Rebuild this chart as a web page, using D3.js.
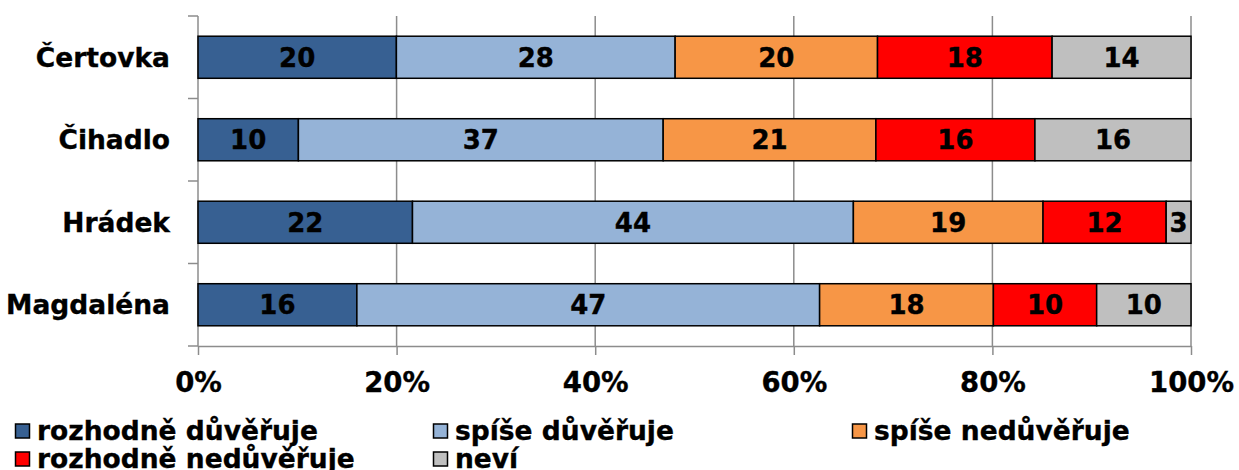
<!DOCTYPE html>
<html>
<head>
<meta charset="utf-8">
<script src="https://cdn.jsdelivr.net/npm/d3@7"></script>
<style>
    body { margin: 0; background: #fff; }
    text { font-family: "DejaVu Sans", Verdana, sans-serif; font-weight: bold; fill: #000; stroke: #000; stroke-width: 0.35px; }
</style>
</head>
<body>
<svg id="chart" width="1239" height="470"></svg>
<script>
// data (shares in %, rows sum to about 100)
const categories = ['Čertovka', 'Čihadlo', 'Hrádek', 'Magdaléna'];
const seriesNames = ['rozhodně důvěřuje', 'spíše důvěřuje', 'spíše nedůvěřuje', 'rozhodně nedůvěřuje', 'neví'];
const rozhodneDuveruje = [20.0, 10.1, 21.6, 16.0];
const spiseDuveruje = [28.1, 36.7, 44.4, 46.6];
const spiseNeduveruje = [20.4, 21.4, 19.1, 17.5];
const rozhodneNeduveruje = [17.6, 16.0, 12.4, 10.4];
const nevi = [14.0, 15.7, 2.5, 9.5];
const tickValues = [0, 0.2, 0.4, 0.6, 0.8, 1];
const colors = ['#376092', '#95b3d7', '#f79646', '#ff0000', '#bfbfbf'];

const seriesValues = [rozhodneDuveruje, spiseDuveruje, spiseNeduveruje, rozhodneNeduveruje, nevi];

// one row per category for d3.stack
const table = categories.map((c, i) => {
    const row = { category: c };
    seriesNames.forEach((s, j) => row[s] = seriesValues[j][i]);
    return row;
});

const svg = d3.select('#chart');
const gridColor = '#8c8c8c';

const x = d3.scaleLinear()
    .domain([0, 1])
    .range([198, 1191]);

const y = d3.scaleBand()
    .domain(categories)
    .range([16, 346])
    .paddingInner(0.49)
    .paddingOuter(0.245);

const stacked = d3.stack()
    .keys(seriesNames)
    .offset(d3.stackOffsetExpand)(table);

// vertical gridlines
svg.append('g')
    .selectAll('line')
    .data(tickValues.slice(1))
    .join('line')
    .attr('x1', d => x(d))
    .attr('x2', d => x(d))
    .attr('y1', y.range()[0])
    .attr('y2', y.range()[1])
    .attr('stroke', gridColor)
    .attr('stroke-width', 1.5);

// x axis
const xAxis = svg.append('g')
    .attr('transform', `translate(0,${y.range()[1]})`)
    .call(d3.axisBottom(x)
        .tickValues(tickValues)
        .tickFormat(d3.format('.0%'))
        .tickSize(9)
        .tickSizeOuter(0));
xAxis.select('.domain').attr('stroke', gridColor).attr('stroke-width', 1.5);
xAxis.selectAll('.tick line').attr('stroke', gridColor).attr('stroke-width', 1.5);
xAxis.selectAll('.tick text')
    .attr('dy', null)
    .attr('y', 46)
    .attr('font-size', 27.5)
    .attr('fill', '#000');

// y axis: line plus ticks between the categories
const yAxis = svg.append('g');
yAxis.append('line')
    .attr('x1', x(0)).attr('x2', x(0))
    .attr('y1', y.range()[0]).attr('y2', y.range()[1])
    .attr('stroke', gridColor)
    .attr('stroke-width', 1.5);
yAxis.selectAll('line.tick')
    .data(d3.range(categories.length + 1))
    .join('line')
    .attr('class', 'tick')
    .attr('x1', x(0) - 10).attr('x2', x(0))
    .attr('y1', i => y.range()[0] + i * y.step())
    .attr('y2', i => y.range()[0] + i * y.step())
    .attr('stroke', gridColor)
    .attr('stroke-width', 1.5);
yAxis.selectAll('text')
    .data(categories)
    .join('text')
    .attr('x', 170)
    .attr('y', d => y(d) + y.bandwidth() / 2)
    .attr('dy', '0.36em')
    .attr('text-anchor', 'end')
    .attr('font-size', 26.5)
    .text(d => d);

// bars
const layers = svg.append('g')
    .selectAll('g')
    .data(stacked)
    .join('g')
    .attr('fill', (d, i) => colors[i]);

layers.selectAll('rect')
    .data(d => d)
    .join('rect')
    .attr('x', d => x(d[0]))
    .attr('y', d => y(d.data.category))
    .attr('width', d => x(d[1]) - x(d[0]))
    .attr('height', y.bandwidth())
    .attr('stroke', '#000')
    .attr('stroke-width', 1.5);

// value labels
layers.selectAll('text')
    .data((d) => d.map(p => ({ p: p, v: p.data[d.key] })))
    .join('text')
    .attr('x', d => (x(d.p[0]) + x(d.p[1])) / 2)
    .attr('y', d => y(d.p.data.category) + y.bandwidth() / 2)
    .attr('dy', '0.36em')
    .attr('text-anchor', 'middle')
    .attr('font-size', 26)
    .text(d => Math.round(d.v));

// legend, three columns
const legendCols = [15, 433, 852];
const legendRows = [440, 468];
const legend = svg.append('g')
    .selectAll('g')
    .data(seriesNames)
    .join('g')
    .attr('transform', (d, i) => `translate(${legendCols[i % 3]},${legendRows[Math.floor(i / 3)]})`);

legend.append('rect')
    .attr('x', 0.5)
    .attr('y', -16)
    .attr('width', 14)
    .attr('height', 14)
    .attr('fill', (d, i) => colors[i])
    .attr('stroke', '#000')
    .attr('stroke-width', 1.5);

legend.append('text')
    .attr('x', 22)
    .attr('font-size', 26.5)
    .text(d => d);
</script>
</body>
</html>
